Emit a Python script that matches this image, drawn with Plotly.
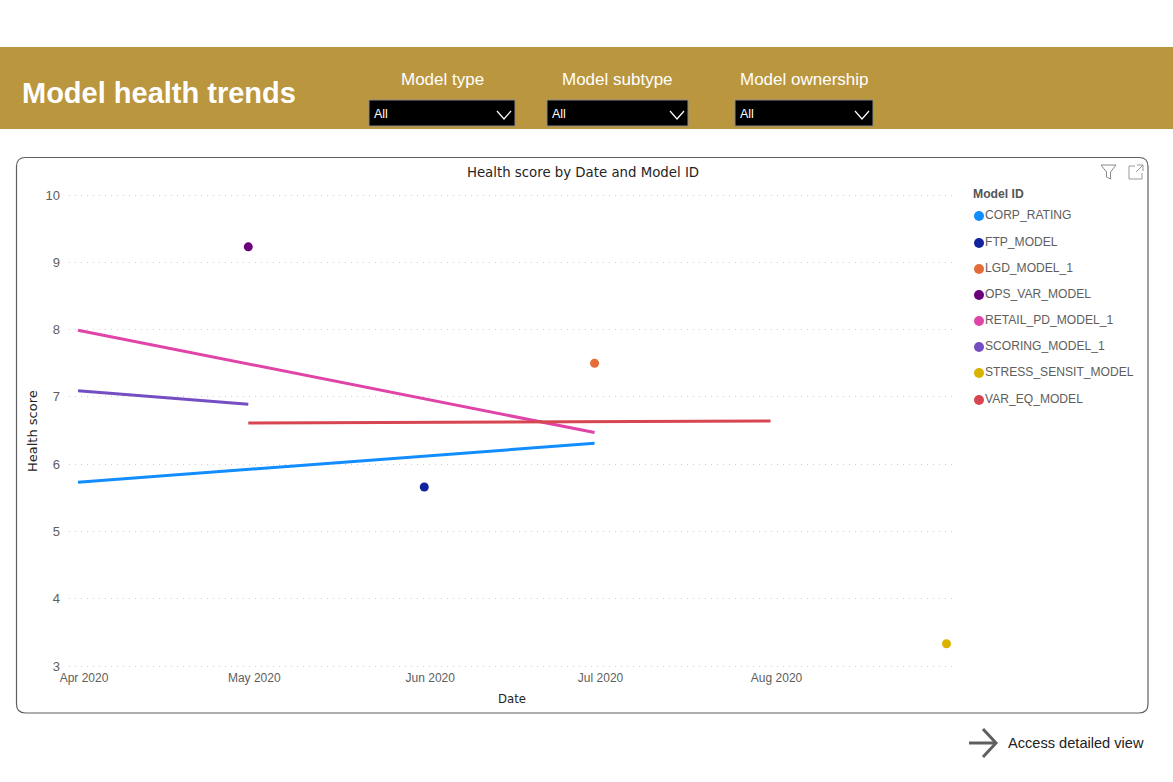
import plotly.graph_objects as go

W, H = 1173, 782

model_ids = ["CORP_RATING", "FTP_MODEL", "LGD_MODEL_1", "OPS_VAR_MODEL",
             "RETAIL_PD_MODEL_1", "SCORING_MODEL_1", "STRESS_SENSIT_MODEL", "VAR_EQ_MODEL"]
colors = ["#118DFF", "#12239E", "#E66C37", "#6B007B", "#E044A7", "#744EC2", "#D9B300", "#D64550"]
dates = [
    ["2020-04-01", "2020-07-01"],
    ["2020-06-01"],
    ["2020-07-01"],
    ["2020-05-01"],
    ["2020-04-01", "2020-07-01"],
    ["2020-04-01", "2020-05-01"],
    ["2020-09-01"],
    ["2020-05-01", "2020-08-01"],
]
scores = [
    [5.73, 6.31],
    [5.66],
    [7.50],
    [9.23],
    [7.99, 6.47],
    [7.09, 6.89],
    [3.33],
    [6.61, 6.64],
]
tick_dates = ["2020-04-01", "2020-05-01", "2020-06-01", "2020-07-01", "2020-08-01"]
tick_labels = ["Apr 2020", "May 2020", "Jun 2020", "Jul 2020", "Aug 2020"]
score_ticks = [3, 4, 5, 6, 7, 8, 9, 10]
filter_labels = ["Model type", "Model subtype", "Model ownership"]
filter_centers = [442, 617, 804]
filter_lefts = [369, 547, 735]
filter_rights = [515, 688, 873]
legend_y = [215, 242, 268, 294, 320, 346, 372, 399]

SANS = "Liberation Sans"
COND = "DejaVu Sans Condensed"


def px(x):
    return x / W


def py(y):
    return 1 - y / H


def path_shape(path, color, width, fill=None):
    return dict(type="path", xref="paper", yref="paper", path=path,
                line=dict(color=color, width=width), fillcolor=fill, layer="above")


def pix_path(points):
    return "M " + " L ".join(f"{px(x):.5f},{py(y):.5f}" for x, y in points)


def label(x, y, text, size, color, font=SANS, anchor="center", angle=0):
    return dict(x=px(x), y=py(y), xref="paper", yref="paper", text=text, showarrow=False, textangle=angle,
                xanchor=anchor, yanchor="middle", font=dict(family=font, size=size, color=color))


fig = go.Figure()
for name, color, xs, ys in zip(model_ids, colors, dates, scores):
    fig.add_trace(go.Scatter(x=xs, y=ys, name=name, mode="lines" if len(xs) > 1 else "markers",
                             line=dict(color=color, width=3), marker=dict(color=color, size=9),
                             cliponaxis=False, showlegend=False))

shapes = [
    dict(type="rect", xref="paper", yref="paper", x0=0, x1=1, y0=py(129), y1=py(47),
         fillcolor="#BA963E", line_width=0, layer="below"),
]

# card outline with rounded corners
l, r, t, b, c = px(16.5), px(1148), py(157.5), py(713), 9
cx, cy = c / W, c / H
shapes.append(path_shape(
    f"M {l + cx},{t} L {r - cx},{t} Q {r},{t} {r},{t - cy} L {r},{b + cy} Q {r},{b} {r - cx},{b} "
    f"L {l + cx},{b} Q {l},{b} {l},{b + cy} L {l},{t - cy} Q {l},{t} {l + cx},{t} Z",
    "#5f5f5f", 1.2))

annotations = [
    label(20, 93, "<b>Model health trends</b>", 29, "white", SANS, "left"),
    label(32, 431, "Health score", 13, "#252423", "DejaVu Sans", angle=-90),
    label(512, 698, "Date", 13, "#252423", COND),
]

# slicers
for text, center, x0, x1 in zip(filter_labels, filter_centers, filter_lefts, filter_rights):
    annotations.append(label(center, 79, text, 17, "white"))
    annotations.append(label(x0 + 3, 114, "All", 12.5, "white", SANS, "left"))
    shapes.append(dict(type="rect", xref="paper", yref="paper", x0=px(x0), x1=px(x1), y0=py(126), y1=py(100),
                       fillcolor="black", line=dict(color="#8a8a8a", width=1), layer="above"))
    shapes.append(path_shape(pix_path([(x1 - 18, 111), (x1 - 11, 119), (x1 - 4, 111)]), "white", 1.2))

# legend
annotations.append(label(971, 194, "<b>Model ID</b>", 12.2, "#555555", SANS, "left"))
for name, color, y in zip(model_ids, colors, legend_y):
    annotations.append(label(983, y - 0.5, name, 12.1, "#605E5C", SANS, "left"))
    shapes.append(dict(type="circle", xref="paper", yref="paper", x0=px(974), x1=px(984),
                       y0=py(y + 6), y1=py(y - 4), fillcolor=color, line_width=0, layer="above"))

# header icons on the card
shapes.append(path_shape(pix_path([(1101, 165), (1116, 165), (1110.5, 172), (1110.5, 179), (1106.5, 177), (1106.5, 172), (1101, 165)]), "#8a8a8a", 1))
shapes.append(path_shape(pix_path([(1135, 166), (1129, 166), (1129, 179), (1142, 179), (1142, 173)]), "#9a9a9a", 1))
shapes.append(path_shape(pix_path([(1137, 165), (1143, 165), (1143, 171)]), "#9a9a9a", 1))
shapes.append(path_shape(pix_path([(1143, 165), (1136, 172)]), "#9a9a9a", 1))

# link arrow
shapes.append(path_shape(pix_path([(969, 743), (995, 743)]), "#5f5f5f", 3))
shapes.append(path_shape(pix_path([(983, 729), (996, 743), (983, 757)]), "#5f5f5f", 3))
annotations.append(label(1006, 743, "Access detailed view", 14.6, "#222222", SANS, "left"))

fig.update_layout(
    width=W, height=H, autosize=False,
    margin=dict(l=0, r=0, t=0, b=0),
    paper_bgcolor="white", plot_bgcolor="white",
    showlegend=False,
    title=dict(text="Health score by Date and Model ID", x=583 / W, xanchor="center", xref="paper",
               y=py(172), yanchor="middle", font=dict(family=COND, size=14.8, color="#252423")),
    shapes=shapes, annotations=annotations,
    xaxis=dict(domain=[px(69), px(955.5)], range=["2020-03-30 10:00", "2020-09-02 14:00"], type="date",
               tickmode="array", tickvals=tick_dates, ticktext=tick_labels, ticklabelshift=6,
               ticklabelstandoff=2, automargin=False, showgrid=False, showline=False, zeroline=False, ticks="",
               tickfont=dict(family=SANS, size=12, color="#605E5C")),
    yaxis=dict(domain=[py(667.35), py(193.65)], range=[2.98, 10.02], tickmode="array", tickvals=score_ticks,
               automargin=False, showgrid=True, gridcolor="#d0d0d0", griddash="1px,5px", gridwidth=1,
               zeroline=False, showline=False, ticks="", ticklabelstandoff=8,
               tickfont=dict(family=SANS, size=13, color="#605E5C")),
)

fig.write_html("out.html", config={"displayModeBar": False}, post_script="document.body.style.margin='0';")
